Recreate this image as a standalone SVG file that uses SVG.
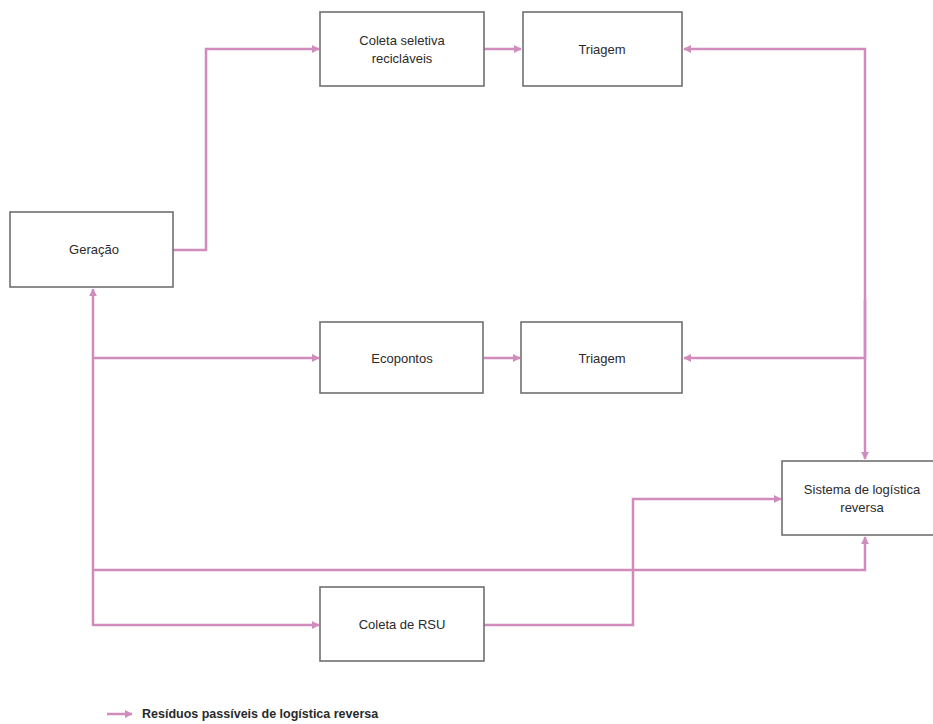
<svg xmlns="http://www.w3.org/2000/svg" width="933" height="724" viewBox="0 0 933 724">
<defs>
<style>
.box{fill:#ffffff;stroke:#707070;stroke-width:1.6}
.lbl{font-family:"Liberation Sans",Arial,sans-serif;font-size:13px;fill:#2a2a2a;text-anchor:middle}
.ln{fill:none;stroke:#d08cbd;stroke-width:2.5}
.leg{font-family:"Liberation Sans",Arial,sans-serif;font-size:12.5px;font-weight:bold;fill:#2a2a2a}
</style>
<marker id="ah" viewBox="0 0 10 10" refX="9" refY="5" markerWidth="3.2" markerHeight="3.2" orient="auto">
<path d="M0,0 L10,5 L0,10 z" fill="#d08cbd"/>
</marker>
</defs>
<rect width="933" height="724" fill="#ffffff"/>
<g id="connectors">
<polyline class="ln" points="173,250 206,250 206,49 319,49" marker-end="url(#ah)"/>
<line class="ln" x1="484" y1="49" x2="521" y2="49" marker-end="url(#ah)"/>
<polyline class="ln" points="865,359 865,49 684,49" marker-end="url(#ah)"/>
<line class="ln" x1="865" y1="300" x2="865" y2="459" marker-end="url(#ah)"/>
<line class="ln" x1="865" y1="358" x2="684" y2="358" marker-end="url(#ah)"/>
<line class="ln" x1="93" y1="626" x2="93" y2="289" marker-end="url(#ah)"/>
<line class="ln" x1="93" y1="358" x2="319" y2="358" marker-end="url(#ah)"/>
<line class="ln" x1="484" y1="358" x2="520" y2="358" marker-end="url(#ah)"/>
<polyline class="ln" points="93,570 865,570 865,537" marker-end="url(#ah)"/>
<line class="ln" x1="93" y1="625" x2="319" y2="625" marker-end="url(#ah)"/>
<polyline class="ln" points="484,625 633,625 633,499 781,499" marker-end="url(#ah)"/>
</g>
<g id="n-geracao">
<rect class="box" x="10" y="212" width="163" height="75"/>
<text class="lbl" x="94" y="254">Geração</text>
</g>
<g id="n-coleta-seletiva">
<rect class="box" x="320" y="12" width="164" height="74"/>
<text class="lbl" x="402" y="45">Coleta seletiva</text>
<text class="lbl" x="402" y="63">recicláveis</text>
</g>
<g id="n-triagem1">
<rect class="box" x="523" y="12" width="159" height="74"/>
<text class="lbl" x="602" y="54">Triagem</text>
</g>
<g id="n-ecopontos">
<rect class="box" x="320" y="322" width="163" height="71"/>
<text class="lbl" x="402" y="363">Ecopontos</text>
</g>
<g id="n-triagem2">
<rect class="box" x="521" y="322" width="161" height="71"/>
<text class="lbl" x="602" y="363">Triagem</text>
</g>
<g id="n-sistema">
<rect class="box" x="782" y="461" width="160" height="74"/>
<text class="lbl" x="862" y="494">Sistema de logística</text>
<text class="lbl" x="862" y="512">reversa</text>
</g>
<g id="n-coleta-rsu">
<rect class="box" x="320" y="587" width="164" height="74"/>
<text class="lbl" x="402" y="629">Coleta de RSU</text>
</g>
<g id="legend">
<line class="ln" x1="107" y1="714" x2="132" y2="714" marker-end="url(#ah)"/>
<text class="leg" x="142" y="718">Resíduos passíveis de logística reversa</text>
</g>
</svg>
